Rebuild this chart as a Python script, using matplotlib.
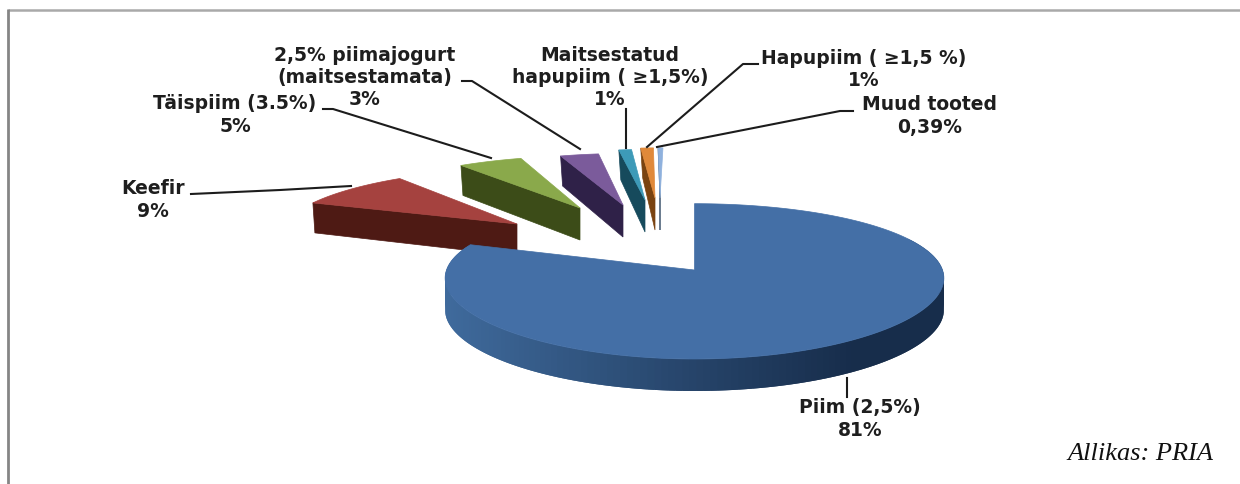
import numpy as np
import matplotlib
matplotlib.use("Agg")
import matplotlib.pyplot as plt
from matplotlib.patches import Polygon
from matplotlib.colors import to_rgb

# ---- data ----
categories = ["Piim (2,5%)", "Keefir", "Täispiim (3.5%)",
              "2,5% piimajogurt\n(maitsestamata)",
              "Maitsestatud\nhapupiim ( ≥1,5%)", "Hapupiim ( ≥1,5 %)", "Muud tooted"]
values = [81, 9, 5, 3, 1, 1, 0.39]
value_labels = ["81%", "9%", "5%", "3%", "1%", "1%", "0,39%"]

# ---- styling / layout ----
top_colors = ["#446FA6", "#A5423F", "#8AA94B", "#7B5B9B", "#3D9AB8", "#E0893A", "#8FB1DD"]
side_colors = ["#3F6A9C", "#4E1A14", "#3C4C18", "#2F2148", "#164A5C", "#7A4310", "#2C4560"]
tips = [(694.5, 270), (517, 224), (580, 208), (623, 205), (645, 200), (655, 198), (660, 198)]
label_xy = [(860, 419), (153, 200), (235, 115), (365, 77.5), (610, 77.5), (864, 69.5), (930, 116)]
leaders = [
    [(847, 378), (847, 397)],
    [(191, 194), (280, 190), (351, 186)],
    [(323, 109), (333, 109), (491, 158)],
    [(462, 81), (472, 81), (580, 149)],
    [(626, 109), (626, 148)],
    [(758, 64), (743, 64), (647, 147)],
    [(853, 111), (840, 111), (657, 147)],
]
CX, CY = 694.5, 270.0
A, B, KY, KX = 76.0, 248.0, 0.146, 0.105
DEPTH = 32.0


def project(X, Y):
    return CX + B * X / (1 + KX * Y), CY - A * Y / (1 + KY * Y)


def unproject(px, py):
    Y = (CY - py) / (A - KY * (CY - py))
    X = (px - CX) * (1 + KX * Y) / B
    return X, Y


fig = plt.figure(figsize=(12.4, 4.84), dpi=100, facecolor="white")
ax = fig.add_axes([0, 0, 1, 1])
ax.set_xlim(0, 1240)
ax.set_ylim(484, 0)
ax.axis("off")

# frame
ax.plot([8, 1240], [10, 10], color="#A9A9A9", lw=1.8, solid_capstyle="butt", zorder=1)
ax.plot([8, 8], [9, 484], color="#858585", lw=2.0, solid_capstyle="butt", zorder=1)

total = sum(values)
edges = np.concatenate([[0], np.cumsum(values)]) / total * 2 * np.pi

# exploded slices, then the large one on top
for i in list(range(1, len(values))) + [0]:
    X0, Y0 = unproject(*tips[i])
    t = np.linspace(edges[i], edges[i + 1], 200)
    ax_x, ax_y = project(X0 + np.sin(t), Y0 + np.cos(t))
    tx, ty = project(X0, Y0)
    top = np.column_stack([np.r_[tx, ax_x], np.r_[ty, ax_y]])
    if i == 0:
        # curved outer wall, shaded from left to right
        mask = (t > np.pi * 0.35) & (t < edges[1] - 0.02)
        sx, sy = ax_x[mask], ax_y[mask]
        c0, c1 = np.array(to_rgb(side_colors[0])), np.array(to_rgb("#172D4B"))
        for j in range(len(sx) - 2, -1, -1):
            f = np.clip((sx[j] - 450) / (860 - 450), 0, 1)
            col = c0 + (c1 - c0) * f
            k = min(j + 2, len(sx) - 1)
            quad = [(sx[j], sy[j]), (sx[k], sy[k]),
                    (sx[k], sy[k] + DEPTH), (sx[j], sy[j] + DEPTH)]
            ax.add_patch(Polygon(quad, closed=True, fc=col, ec="none", lw=0, zorder=3))
    else:
        # visible cut face, from the outer corner to the tip
        wall = [(ax_x[0], ax_y[0]), (tx, ty), (tx, ty + DEPTH), (ax_x[0] + 2, ax_y[0] + DEPTH - 2)]
        ax.add_patch(Polygon(wall, closed=True, fc=side_colors[i], ec=side_colors[i], lw=0.5, zorder=2))
    z = 4 if i == 0 else 2.5
    ax.add_patch(Polygon(top, closed=True, fc=top_colors[i], ec=top_colors[i], lw=0.5, zorder=z))

# leader lines and labels
for pts in leaders:
    xs, ys = zip(*pts)
    ax.plot(xs, ys, color="#1C1C1C", lw=1.5, zorder=5, solid_joinstyle="round")

for name, val, (x, y) in zip(categories, value_labels, label_xy):
    ax.text(x, y, f"{name}\n{val}", ha="center", va="center", ma="center",
            family="DejaVu Sans", weight="bold", fontsize=13.5, color="#1E1E1E",
            linespacing=1.21, zorder=6)

ax.text(1213, 454, "Allikas: PRIA", ha="right", va="center",
        family="Liberation Serif", style="italic", fontsize=19, color="#111111")

fig.savefig("out.png", dpi=100, facecolor="white")
